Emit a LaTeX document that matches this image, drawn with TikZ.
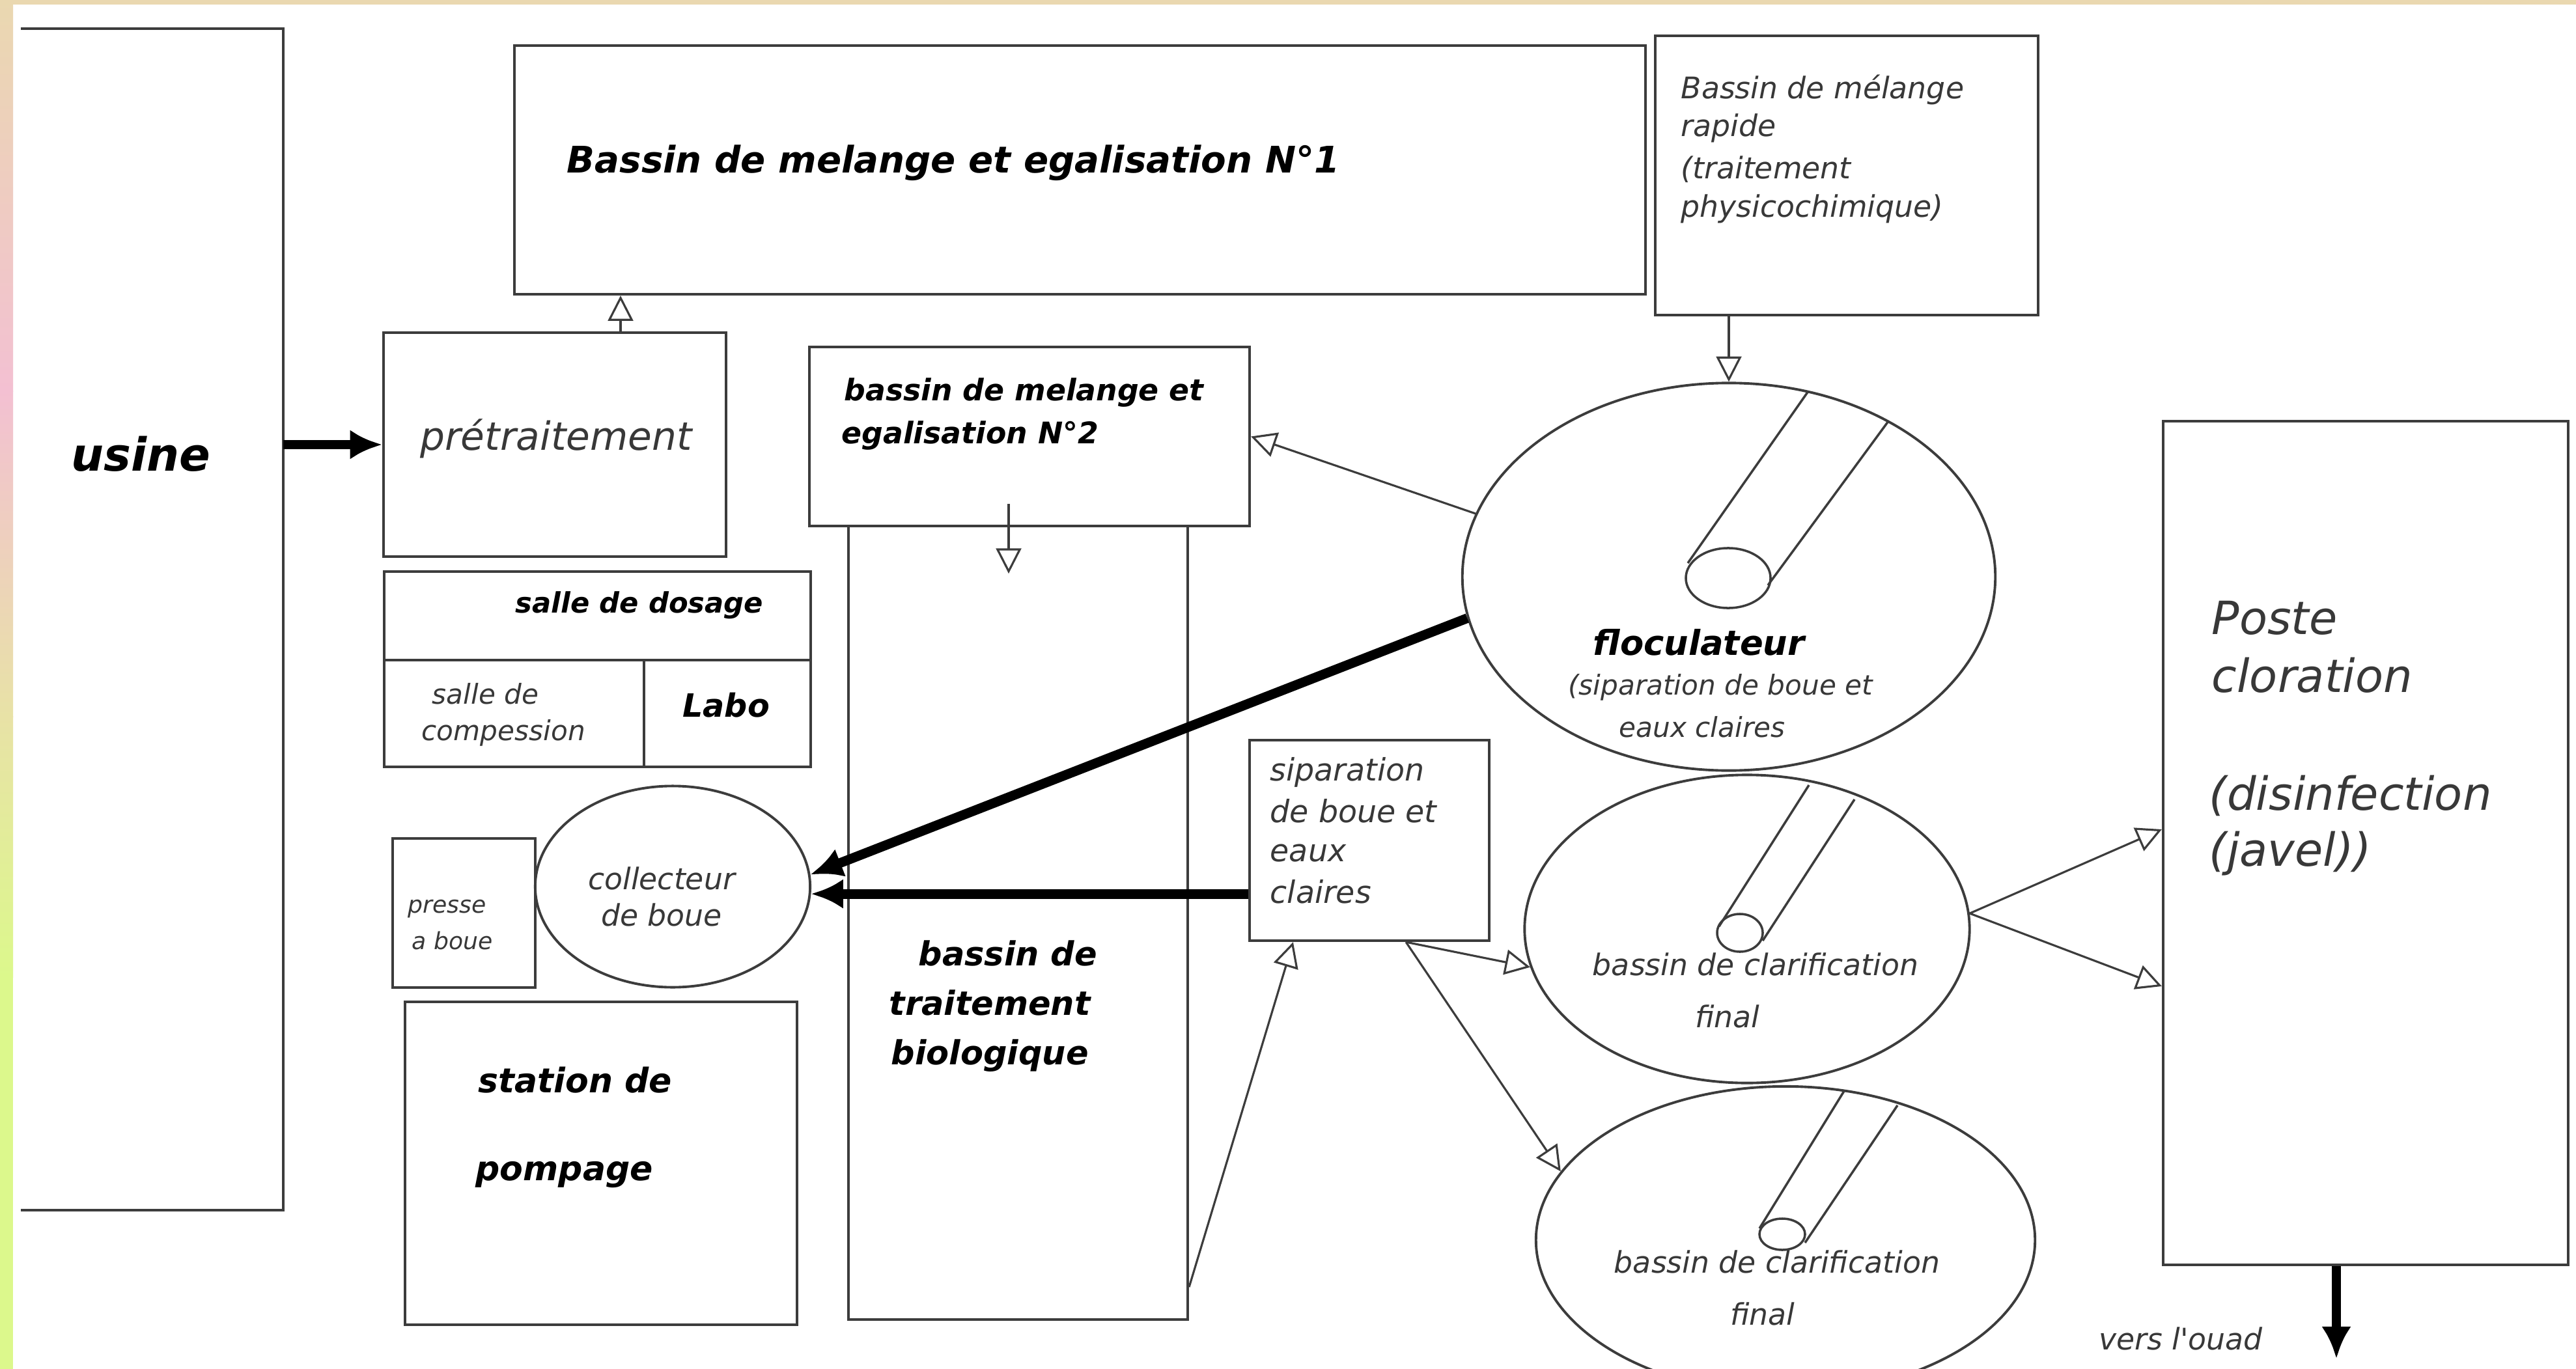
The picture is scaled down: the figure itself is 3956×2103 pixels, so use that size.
\documentclass[tikz,border=0pt]{standalone}
\usepackage{fontspec}
\setmainfont{DejaVu Sans}
\usetikzlibrary{arrows.meta,fit,shapes.geometric,calc}
\definecolor{linegray}{HTML}{3C3C3C}
\definecolor{txtgray}{HTML}{383838}
\definecolor{stripbeige}{HTML}{EAD8B0}
\definecolor{strippink}{HTML}{F3C0D2}
\definecolor{stripyellow}{HTML}{E8E2A6}
\definecolor{stripgreen}{HTML}{DCF88C}
\begin{document}
\begin{tikzpicture}[x=0.01cm,y=-0.01cm,
  box/.style={draw=linegray, line width=1.2pt, inner sep=0pt},
  ell/.style={draw=linegray, line width=1.1pt, ellipse, inner sep=0pt},
  tube/.style={draw=linegray, line width=1pt},
  oa/.style={draw=linegray, line width=0.9pt, -{Triangle[open,length=11pt,width=11pt]}},
  ta/.style={draw=black, line width=4.2pt, -{Latex[length=14pt,width=13pt]}},
  tb/.style={font=\fontsize{#1}{#1}\selectfont\bfseries\itshape, text=black, inner sep=0pt},
  tr/.style={font=\fontsize{#1}{#1}\selectfont\itshape, text=txtgray, inner sep=0pt},
]
% background and frame strips
\fill[white] (0,0) rectangle (3956,2103);
\useasboundingbox (0,0) rectangle (3956,2103);
\fill[stripbeige] (0,0) rectangle (3956,7);
\shade[top color=stripbeige, bottom color=strippink] (0,0) rectangle (20,601);
\shade[top color=strippink, bottom color=stripyellow] (0,600) rectangle (20,1101);
\shade[top color=stripyellow, bottom color=stripgreen] (0,1100) rectangle (20,1501);
\fill[stripgreen] (0,1500) rectangle (20,2103);

% boxes
\node[fit={(33,45) (434,1858)}, inner sep=0pt] (usine) {};
\draw[linegray, line width=1.2pt] (usine.north west) -- (usine.north east) -- (usine.south east) -- (usine.south west);
\node[box, fit={(589,511) (1115,855)}] (pre) {};
\node[box, fit={(790,70) (2527,452)}] (n1) {};
\node[box, fit={(2542,55) (3130,484)}] (rap) {};
\node[box, fit={(1243,533) (1919,808)}] (n2) {};
\node[box, fit={(1303,808) (1824,2027)}] (bio) {};
\node[box, fit={(590,878) (1245,1014)}] (dos) {};
\node[box, fit={(590,1014) (989,1178)}] (comp) {};
\node[box, fit={(989,1014) (1245,1178)}] (labo) {};
\node[box, fit={(603,1288) (822,1517)}] (presse) {};
\node[ell, minimum width=4.22cm, minimum height=3.09cm] (coll) at (1033,1362) {};
\node[box, fit={(622,1539) (1224,2035)}] (stat) {};
\node[box, fit={(1919,1137) (2287,1445)}] (sep) {};
\node[ell, minimum width=8.18cm, minimum height=5.95cm] (floc) at (2655,886) {};
\node[ell, minimum width=6.83cm, minimum height=4.73cm] (cl1) at (2683,1427) {};
\node[ell, minimum width=7.66cm, minimum height=4.72cm] (cl2) at (2742,1905) {};
\node[box, fit={(3322,647) (3944,1943)}] (poste) {};

% tubes inside the round basins
\draw[tube] (2592,865) -- (2777,601);
\draw[tube] (2715,899) -- (2900,647);
\draw[tube] (2654,888) ellipse [x radius=0.65cm, y radius=0.46cm];
\draw[tube] (2640,1423) -- (2778,1206);
\draw[tube] (2707,1445) -- (2848,1228);
\draw[tube] (2672,1433) ellipse [x radius=0.35cm, y radius=0.29cm];
\draw[tube] (2702,1887) -- (2832,1676);
\draw[tube] (2772,1909) -- (2914,1698);
\draw[tube] (2737,1896) ellipse [x radius=0.35cm, y radius=0.24cm];

% connectors
\draw[ta] (usine.east |- pre.west) -- (pre.west);
\coordinate (a1) at ($(pre.north)+(101,0)$);
\draw[oa] (a1) -- (a1 |- n1.south);
\draw[oa] (rap.south -| floc.north) -- (floc.north);
\draw[oa] (floc.166) -- (n2.east);
\coordinate (d1) at ($(n2.south)+(-32,-36)$);
\coordinate (d2) at ($(n2.south)+(-32,71)$);
\draw[oa] (d1) -- (d2);
\draw[ta] (floc.189) -- (coll.5);
\draw[ta] (sep.west |- coll.-3) -- (coll.-3);
\draw[oa] ($(bio.south east)+(0,-52)$) -- ($(sep.south west)+(69,0)$);
\coordinate (s1) at ($(sep.south east)+(-130,0)$);
\draw[oa] (s1) -- (cl1.190);
\draw[oa] (s1) -- (cl2.163);
\draw[oa] (cl1.4) -- ($(poste.west)+(0,-21)$);
\draw[oa] (cl1.4) -- ($(poste.west)+(0,220)$);
\coordinate (out) at ($(poste.south)+(-45,142)$);
\draw[ta] ($(poste.south)+(-45,0)$) -- (out);

% texts
\node[tb=20] (tusine) at (216,697) {usine};
\node[tr=17] (tpre) at (854,674) {prétraitement};
\node[tb=16, anchor=west] (tn1) at (870,250) {Bassin de melange et egalisation N°1};
\node[tr=13, anchor=west] (tr1) at (2581,138) {Bassin de mélange};
\node[tr=13, anchor=west] (tr2) at (2581,197) {rapide};
\node[tr=13, anchor=west] (tr3) at (2581,260) {(traitement};
\node[tr=13, anchor=west] (tr4) at (2581,321) {physicochimique)};
\node[tb=13, anchor=west] (tn2a) at (1296,603) {bassin de melange et};
\node[tb=13, anchor=west] (tn2b) at (1292,669) {egalisation N°2};
\node[tb=12.3] (tdos) at (982,930) {salle de dosage};
\node[tr=12, anchor=west] (tcomp1) at (663,1066) {salle de};
\node[tr=12, anchor=west] (tcomp2) at (647,1126) {compession};
\node[tb=14] (tlabo) at (1115,1083) {Labo};
\node[tr=10.3, anchor=west] (tpr1) at (626,1396) {presse};
\node[tr=10.3, anchor=west] (tpr2) at (632,1445) {a boue};
\node[tr=13] (tcol1) at (1016,1349) {collecteur};
\node[tr=13] (tcol2) at (1016,1405) {de boue};
\node[tb=14.8, anchor=west] (tst1) at (734,1659) {station de};
\node[tb=14.8, anchor=west] (tst2) at (730,1805) {pompage};
\node[tb=14.5, anchor=west] (tbio1) at (1410,1464) {bassin de};
\node[tb=14.5, anchor=west] (tbio2) at (1365,1540) {traitement};
\node[tb=14.5, anchor=west] (tbio3) at (1368,1622) {biologique};
\node[tb=15] (tfl1) at (2609,987) {floculateur};
\node[tr=12] (tfl2) at (2642,1056) {(siparation de boue et};
\node[tr=12] (tfl3) at (2614,1117) {eaux claires};
\node[tr=13.5, anchor=west] (ts1) at (1950,1186) {siparation};
\node[tr=13.5, anchor=west] (ts2) at (1950,1246) {de boue et};
\node[tr=13.5, anchor=west] (ts3) at (1950,1311) {eaux};
\node[tr=13.5, anchor=west] (ts4) at (1950,1370) {claires};
\node[tr=13] (tc1a) at (2696,1481) {bassin de clarification};
\node[tr=13] (tc1b) at (2653,1561) {final};
\node[tr=13] (tc2a) at (2729,1938) {bassin de clarification};
\node[tr=13] (tc2b) at (2707,2018) {final};
\node[tr=20, anchor=west] (tp1) at (3396,949) {Poste};
\node[tr=20, anchor=west] (tp2) at (3396,1037) {cloration};
\node[tr=20, anchor=west] (tp3) at (3392,1222) {(disinfection};
\node[tr=20, anchor=west] (tp4) at (3392,1311) {(javel))};
\node[tr=13] (tvers) at (3349,2056) {vers l\textquotesingle ouad};
\end{tikzpicture}
\end{document}
